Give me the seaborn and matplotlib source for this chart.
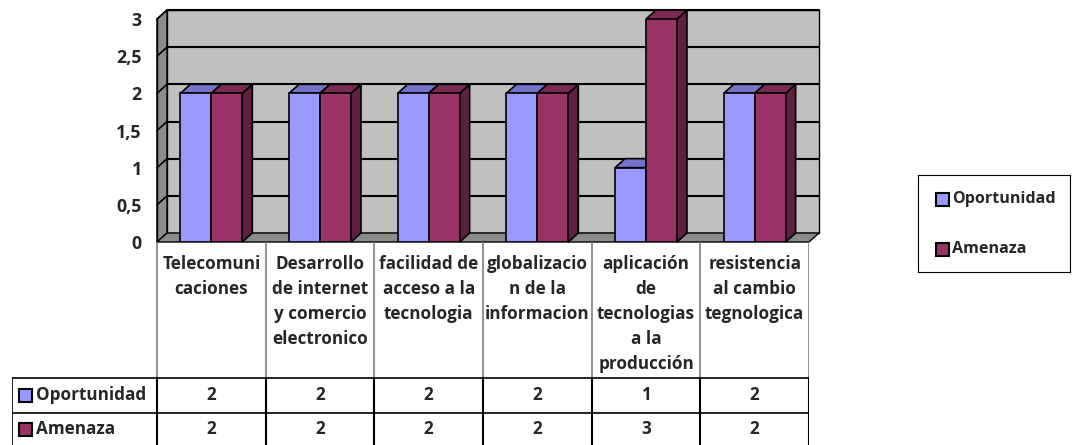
import numpy as np
import pandas as pd
import matplotlib.pyplot as plt
from matplotlib.patches import Polygon, Rectangle
import seaborn as sns

# ----------------------------
# Data
# ----------------------------
categories = [
    "Telecomuni\ncaciones",
    "Desarrollo\nde internet\ny comercio\nelectronico",
    "facilidad de\nacceso a la\ntecnologia",
    "globalizacio\nn de la\ninformacion",
    "aplicación\nde\ntecnologias\na la\nproducción",
    "resistencia\nal cambio\ntegnologica",
]
series = ["Oportunidad", "Amenaza"]
oportunidad = [2, 2, 2, 2, 1, 2]
amenaza = [2, 2, 2, 2, 3, 2]
y_ticks = [0, 0.5, 1, 1.5, 2, 2.5, 3]
y_tick_labels = ["0", "0,5", "1", "1,5", "2", "2,5", "3"]

front_colors = {"Oportunidad": "#9999FF", "Amenaza": "#993366"}
top_colors = {"Oportunidad": "#7373CC", "Amenaza": "#7A2952"}
side_colors = {"Oportunidad": "#5C5C99", "Amenaza": "#5E1F40"}

df = pd.DataFrame({
    "categoria": categories * 2,
    "serie": [series[0]] * 6 + [series[1]] * 6,
    "valor": oportunidad + amenaza,
})

# ----------------------------
# Figure layout (pixels)
# ----------------------------
W, H = 1072, 445
sns.set_style("white")
plt.rcParams["font.family"] = ["Open Sans", "DejaVu Sans"]
FW = "bold"
FS = 12.3

fig = plt.figure(figsize=(W / 100, H / 100), dpi=100)
fig.patch.set_facecolor("white")

x_left, x_right, y_bot, y_top = 157, 809, 242, 19
ax = fig.add_axes([x_left / W, (H - y_bot) / H, (x_right - x_left) / W, (y_bot - y_top) / H])
ax.set_xlim(-0.5, 5.5)
ax.set_ylim(0, 3)
ax.patch.set_visible(False)

# depth offset in data units (10 px right, 9 px up)
px_x = (x_right - x_left) / 6
px_y = (y_bot - y_top) / 3
ddx, ddy = 10 / px_x, 9 / px_y

# back wall, side wall, floor
ax.add_patch(Rectangle((-0.5 + ddx, ddy), 6, 3, fc="#C0C0C0", ec="black", lw=1, zorder=0, clip_on=False))
ax.add_patch(Polygon([(-0.5, 0), (-0.5 + ddx, ddy), (-0.5 + ddx, 3 + ddy), (-0.5, 3)],
                     fc="#8C8C8C", ec="black", lw=1, zorder=0.5, clip_on=False))
ax.add_patch(Polygon([(-0.5, 0), (5.5, 0), (5.5 + ddx, ddy), (-0.5 + ddx, ddy)],
                     fc="#8C8C8C", ec="black", lw=1, zorder=1, clip_on=False))
for v in y_ticks[1:]:
    ax.plot([-0.5 + ddx, 5.5 + ddx], [v + ddy, v + ddy], color="black", lw=1.5, zorder=0.6, clip_on=False)
    ax.plot([-0.5, -0.5 + ddx], [v, v + ddy], color="black", lw=1.2, zorder=0.6, clip_on=False)

sns.barplot(data=df, x="categoria", y="valor", hue="serie", order=categories, hue_order=series,
            palette=front_colors, width=0.57, edgecolor="black", linewidth=1.2,
            saturation=1, legend=False, ax=ax, zorder=3)

# 3D faces for each bar
for cont, name in zip(ax.containers, series):
    for bar in cont:
        x0, w, h = bar.get_x(), bar.get_width(), bar.get_height()
        ax.add_patch(Polygon([(x0 + w, 0), (x0 + w + ddx, ddy), (x0 + w + ddx, h + ddy), (x0 + w, h)],
                             fc=side_colors[name], ec="black", lw=1.2, zorder=2, clip_on=False))
        ax.add_patch(Polygon([(x0, h), (x0 + w, h), (x0 + w + ddx, h + ddy), (x0 + ddx, h + ddy)],
                             fc=top_colors[name], ec="black", lw=1.2, zorder=2, clip_on=False))

ax.set_yticks(y_ticks)
ax.set_yticklabels(y_tick_labels, fontsize=12.8, fontweight=FW)
ax.tick_params(axis="y", direction="out", length=5, width=1, color="black", pad=6)
ax.tick_params(axis="x", length=0, labelbottom=False)
ax.set_xlabel("")
ax.set_ylabel("")
for s in ["top", "right", "bottom"]:
    ax.spines[s].set_visible(False)
ax.spines["left"].set_color("black")
ax.spines["left"].set_linewidth(1)

# ----------------------------
# Data table
# ----------------------------
t_left = 12
tab = fig.add_axes([t_left / W, 0, (x_right - t_left) / W, (H - y_bot) / H])
tab.set_xlim(-0.5 - (x_left - t_left) / px_x, 5.5)
tab.set_ylim(H, y_bot)
tab.axis("off")
xl = -0.5 - (x_left - t_left) / px_x
r1, r2, r3 = 378, 413, 446
edges = np.arange(-0.5, 6.0, 1.0)
for e in edges:
    tab.plot([e, e], [y_bot, r1], color="#7F7F7F", lw=1.2)
    tab.plot([e, e], [r1, r3], color="black", lw=1.5)
tab.plot([xl, xl], [r1, r3], color="black", lw=1.2)
for r in [r1, r2]:
    tab.plot([xl, 5.5], [r, r], color="black", lw=1.2)

for i, cat in enumerate(categories):
    tab.text(i, 255, cat, ha="center", va="top", fontsize=FS, fontweight=FW, linespacing=1.5)
    tab.text(i, (r1 + r2) / 2, str(oportunidad[i]), ha="center", va="center", fontsize=FS, fontweight=FW)
    tab.text(i, 429, str(amenaza[i]), ha="center", va="center", fontsize=FS, fontweight=FW)

sq = 13 / px_x
for name, yc in zip(series, [(r1 + r2) / 2, 429]):
    tab.add_patch(Rectangle((xl + 7 / px_x, yc - 6.5), sq, 13, fc=front_colors[name], ec="black", lw=1.5))
    tab.text(xl + 24 / px_x, yc, name, ha="left", va="center", fontsize=FS, fontweight=FW)

# ----------------------------
# Legend
# ----------------------------
lg = fig.add_axes([918 / W, (H - 272) / H, (1070 - 918) / W, (272 - 175) / H])
lg.set_xlim(918, 1070)
lg.set_ylim(272, 175)
lg.set_xticks([])
lg.set_yticks([])
for s in lg.spines.values():
    s.set_color("black")
    s.set_linewidth(0.8)
for name, yc in zip(series, [199, 249]):
    lg.add_patch(Rectangle((936, yc - 6.5), 13, 13, fc=front_colors[name], ec="black", lw=1.5))
    lg.text(952, yc, name, ha="left", va="center", fontsize=11.6, fontweight=FW)

fig.savefig("out.png", dpi=100)
